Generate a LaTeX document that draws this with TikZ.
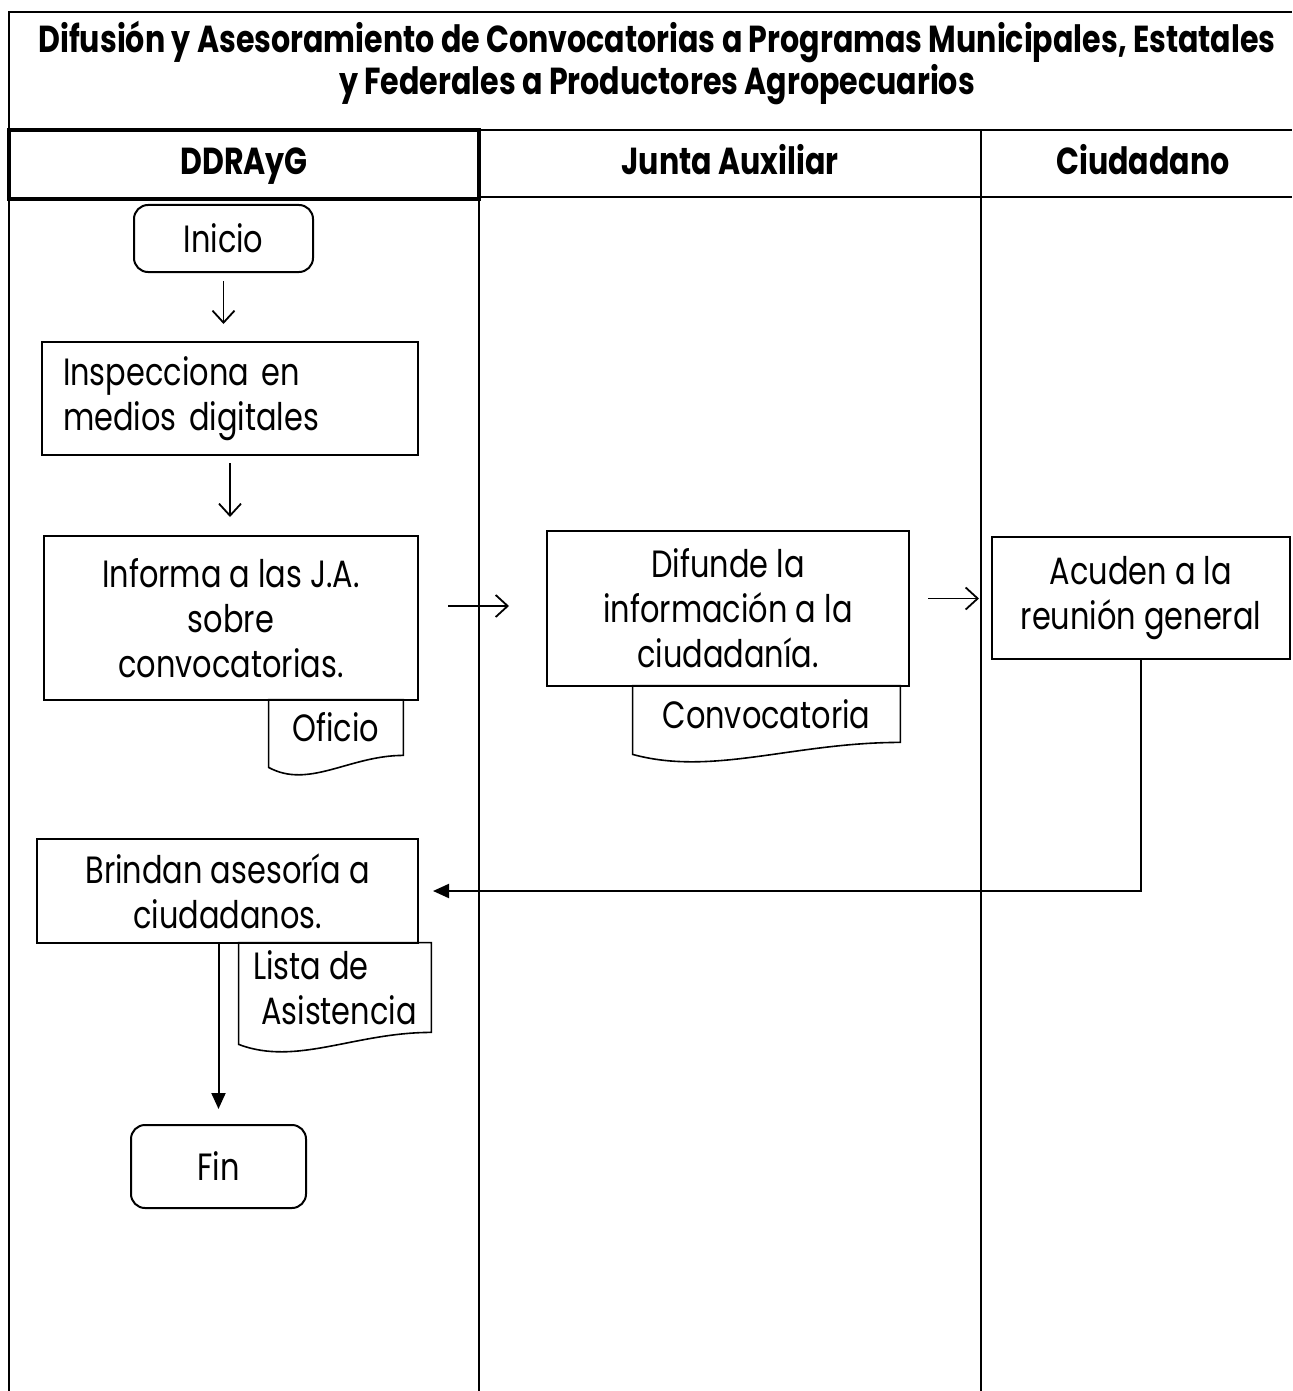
\documentclass[tikz,border=0pt]{standalone}
\usepackage{fontspec}
\setmainfont{Poppins}[FakeStretch=0.8]
\usetikzlibrary{arrows.meta,calc}

\newcommand{\bodyfont}{\fontsize{19}{22.5}\selectfont}
\newcommand{\headfont}{\fontsize{18.8}{19}\selectfont\bfseries}
% document symbol: wavy bottom under a node
\newcommand{\docwave}[1]{%
  \draw[line width=0.8pt] (#1.north east) -- (#1.north west) -- ($(#1.south west)+(0,12)$)
    .. controls ($(#1.south west)!0.3!(#1.south east)+(0,34)$)
    and ($(#1.south west)!0.6!(#1.south east)$) .. (#1.south east) -- cycle;}

\begin{document}
\begin{tikzpicture}[x=0.5pt, y=-0.5pt,
  proc/.style={draw, line width=1pt, align=center, inner sep=0pt, font=\bodyfont},
  term/.style={draw, line width=1pt, rounded corners=7pt, inner sep=0pt, font=\bodyfont},
  docu/.style={inner sep=0pt, align=left, font=\bodyfont},
  head/.style={font=\headfont, align=center},
  lane/.style={line width=1pt},
  flow/.style={line width=0.9pt, -{Straight Barb[length=6pt,width=11pt]}},
  link/.style={line width=1pt, -{Triangle[length=8pt,width=7pt]}}]
\useasboundingbox (0,0) rectangle (1292,1391);

% frame and lanes
\draw[line width=0.8pt] (9,1391) -- (9,12) -- (1292,12);
\draw[line width=0.8pt] (9,130) -- (1292,130);
\draw[line width=0.8pt] (479,197) -- (1292,197);
\draw[lane] (479,130) -- (479,1391);
\draw[lane] (981,130) -- (981,1391);
\draw[line width=2.2pt] (9,130) rectangle (479,199);

% headings
\node[head] (title) at (657,63) {Difusión y Asesoramiento de Convocatorias a Programas Municipales, Estatales\\y Federales a Productores Agropecuarios};
\node[head, anchor=base] (ddr) at (244,175) {DDRAyG};
\node[head, anchor=base] (junta) at (730,175) {Junta Auxiliar};
\node[head, anchor=base] (ciud) at (1143,175) {Ciudadano};

% steps
\node[term, minimum width=89.5pt, minimum height=33.5pt] (inicio) at (223.5,238.5) {Inicio};
\node[proc, align=left, text width=167pt, inner xsep=10.5pt, minimum height=56.5pt] (insp) at (230,398.5) {Inspecciona en\\medios digitales};
\node[proc, minimum width=187pt, minimum height=82pt] (informa) at (231,618) {Informa a las J.A.\\sobre\\convocatorias.};
\node[docu, align=center, minimum width=67pt, minimum height=27.5pt] (oficio) at (336,727.5) {Oficio};
\node[proc, minimum width=181pt, minimum height=77.5pt] (difunde) at (728,608.5) {Difunde la\\información a la\\ciudadanía.};
\node[docu, align=center, minimum width=133.5pt, minimum height=28pt] (convoc) at (766.5,714) {Convocatoria};
\node[proc, minimum width=149pt, minimum height=61pt] (acuden) at (1141,598) {Acuden a la\\reunión general};
\node[proc, minimum width=190.5pt, minimum height=52pt] (brindan) at (227.5,891) {Brindan asesoría a\\ciudadanos.};
\node[docu, minimum width=96pt, minimum height=44.5pt] (lista) at (335,987.5) {Lista de\\\hspace*{4pt}Asistencia};
\node[term, minimum width=87.5pt, minimum height=41.5pt] (fin) at (218.5,1166.5) {Fin};

\docwave{oficio}
\docwave{convoc}
\docwave{lista}

% connectors
\draw[flow, shorten <=4pt, shorten >=8.5pt] (inicio.south) -- (inicio.south |- insp.north);
\draw[flow, shorten <=3.5pt, shorten >=9pt] (insp.south) -- (insp.south |- informa.north);
\draw[flow, shorten <=14.5pt, shorten >=18.5pt] ([yshift=6pt]informa.east) -- ([yshift=6pt]informa.east -| difunde.west);
\draw[flow, shorten <=9pt, shorten >=6pt] ([yshift=5pt]difunde.east) -- ([yshift=5pt]difunde.east -| acuden.west);
\draw[link, shorten >=7pt] (acuden.south) |- (brindan.east);
\draw[link, shorten >=7.5pt] (brindan.south -| fin.north) -- (fin.north);
\end{tikzpicture}
\end{document}
